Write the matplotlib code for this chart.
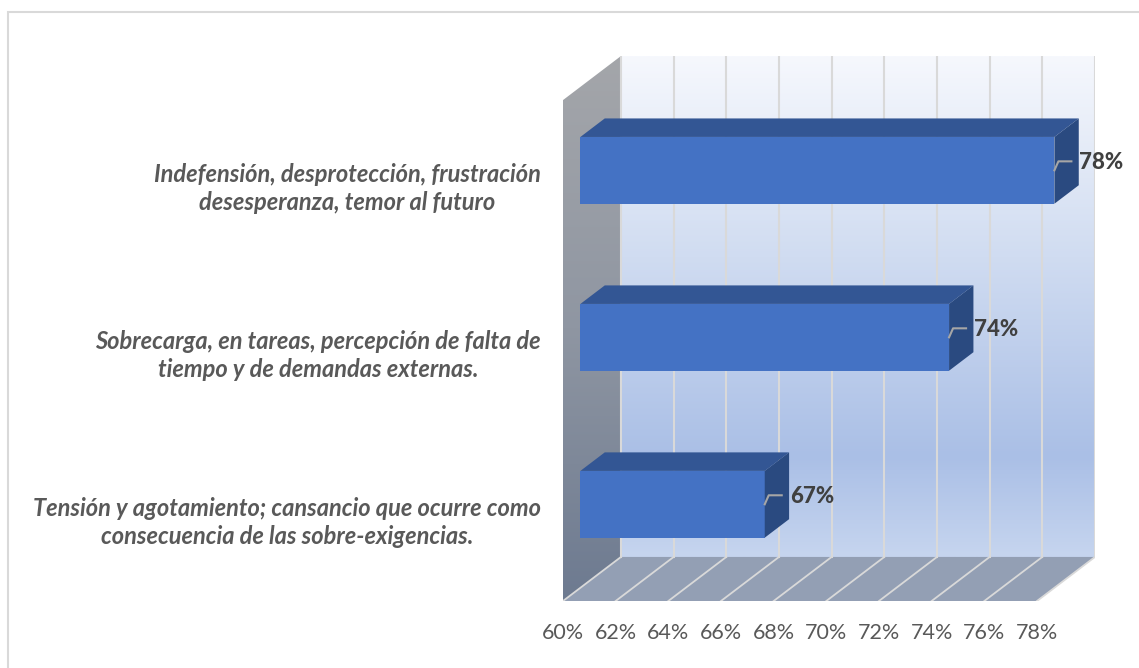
import matplotlib
matplotlib.use("Agg")
import matplotlib.pyplot as plt
import matplotlib.transforms as mtransforms
from matplotlib.patches import Polygon, Rectangle
from matplotlib.colors import LinearSegmentedColormap
import numpy as np

# data (bottom to top, as drawn)
categories = ["Tensión y agotamiento; cansancio que ocurre como\nconsecuencia de las sobre-exigencias.",
              "Sobrecarga, en tareas, percepción de falta de\ntiempo y de demandas externas.",
              "Indefensión, desprotección, frustración\ndesesperanza, temor al futuro"]
values = [67, 74, 78]
ticks = [60, 62, 64, 66, 68, 70, 72, 74, 76, 78]
tick_labels = ["60%", "62%", "64%", "66%", "68%", "70%", "72%", "74%", "76%", "78%"]

# fake 3d geometry (depth offsets in data units)
W, H = 1139, 668
xmin, xmax = 60, 78
ppx = (1037 - 563) / (xmax - xmin)     # pixels per %
DX = 58 / ppx                           # depth shift in x
DY = 44 / (500 / 3)                     # depth shift in category units
d0, d1 = 0.3, 0.72                      # bar front / back depth
half = 0.2                              # half bar thickness

fig = plt.figure(figsize=(W / 100, H / 100), dpi=100)
ax = fig.add_axes([563 / W, (H - 601) / H, (1095 - 563) / W, (601 - 56) / H])
ax.set_xlim(xmin, xmax + DX)
ax.set_ylim(0, 3 + DY)
ax.patch.set_visible(False)
for s in ax.spines.values():
    s.set_visible(False)

# outer chart border
fig.patches.append(Rectangle((8 / W, -0.1), 1.2, (H - 12) / H + 0.1, transform=fig.transFigure,
                             fill=False, edgecolor="#d9d9d9", linewidth=1.5))

def P(v, c, d):
    return (v + d * DX, c + d * DY)

# back wall gradient
wall_cmap = LinearSegmentedColormap.from_list("wall", [(0, "#c6d5ef"), (0.2, "#aabfe6"),
                                                       (0.6, "#d0dcf1"), (1, "#f6f8fd")])
grad = np.linspace(0, 1, 256).reshape(-1, 1)
ax.imshow(grad, cmap=wall_cmap, origin="lower", aspect="auto", interpolation="bilinear",
          extent=(xmin + DX, xmax + DX, DY, 3 + DY), zorder=0)

# side wall
side = Polygon([P(xmin, 0, 0), P(xmin, 3, 0), P(xmin, 3, 1), P(xmin, 0, 1)],
               closed=True, facecolor="none", edgecolor="none")
ax.add_patch(side)
side_cmap = LinearSegmentedColormap.from_list("side", ["#6d7a90", "#8f96a2", "#a4a6aa"])
im = ax.imshow(grad, cmap=side_cmap, origin="lower", aspect="auto", interpolation="bilinear",
               extent=(xmin, xmin + DX, 0, 3 + DY), zorder=0)
im.set_clip_path(side)

# floor
ax.add_patch(Polygon([P(xmin, 0, 0), P(xmax, 0, 0), P(xmax, 0, 1), P(xmin, 0, 1)],
                     closed=True, facecolor="#939fb4", edgecolor="none", zorder=0))

# gridlines on back wall and floor
for t in ticks:
    bx, by0 = P(t, 0, 1)
    _, by1 = P(t, 3, 1)
    ax.plot([bx, bx], [by0, by1], color="#d9d9d9", lw=1.5, zorder=1)
    fx, fy = P(t, 0, 0)
    ax.plot([fx, bx], [fy, by0], color="#d9d9d9", lw=1.3, zorder=1)

# bars
centers = np.arange(len(values)) + 0.5
ax.barh(centers + d0 * DY, [v - xmin for v in values], height=2 * half, left=xmin + d0 * DX,
        color="#4472c4", zorder=3)
for c, v in zip(centers, values):
    top = [P(xmin, c + half, d0), P(v, c + half, d0), P(v, c + half, d1), P(xmin, c + half, d1)]
    ax.add_patch(Polygon(top, closed=True, facecolor="#335694", edgecolor="none", zorder=3))
    sd = [P(v, c - half, d0), P(v, c + half, d0), P(v, c + half, d1), P(v, c - half, d1)]
    ax.add_patch(Polygon(sd, closed=True, facecolor="#2a4a80", edgecolor="none", zorder=3))

    # data label with leader line
    ax0, ay0 = P(v, c, d0)
    tr = fig.dpi_scale_trans + mtransforms.ScaledTranslation(ax0, ay0, ax.transData)
    ax.plot([0, 0.04, 0.17], [0, 0.09, 0.09], transform=tr, color="#a6a6a6", lw=1.5,
            zorder=4, clip_on=False)
    ax.text(0.25, 0.075, f"{v}%", transform=tr, ha="left", va="center", fontsize=16,
            fontweight="black", color="#404040", family="Lato", zorder=5)

# axis labels (category labels sit on the front plane)
ax.set_xticks(ticks)
ax.set_xticklabels(tick_labels, fontsize=15.5, color="#595959", family="Lato")
ax.set_yticks(centers)
ax.set_yticklabels(categories, fontsize=17, color="#595959", family="Lato",
                   fontweight="bold", fontstyle="italic", multialignment="center",
                   linespacing=1.3)
ax.tick_params(axis="x", length=0, pad=16)
ax.tick_params(axis="y", length=0, pad=16)

fig.savefig("out.png", dpi=100, facecolor="white")
